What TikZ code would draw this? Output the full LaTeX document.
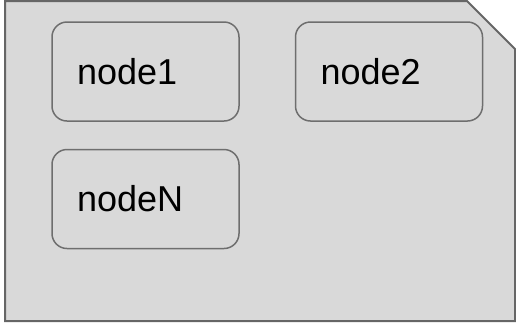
\documentclass[tikz,border=0pt]{standalone}
\usepackage{fontspec}
\setmainfont{Liberation Sans}
\usepackage{tikz}
\usetikzlibrary{positioning}
\definecolor{panel}{HTML}{D9D9D9}
\definecolor{edge}{HTML}{666666}
\definecolor{boxedge}{HTML}{6E6E6E}

\begin{document}
\begin{tikzpicture}[x=1pt,y=-1pt,
  panelshape/.style={draw=edge,fill=panel,line width=2pt,line join=miter},
  item/.style={draw=boxedge,fill=panel,line width=1.5pt,rounded corners=15pt,
    minimum width=187pt,minimum height=99pt,inner xsep=25pt,
    text width=137pt,align=left,font=\fontsize{36}{43}\selectfont}]
\useasboundingbox (0,0) rectangle (516,325);
% card with the clipped corner
\draw[panelshape] (5,1) -- (467,1) -- (515,49) -- (515,321) -- (5,321) -- cycle;
\node[item] (n1) at (145.5,71.5) {node1};
\node[item,right=55pt of n1] (n2) {node2};
\node[item,below=27pt of n1] (nN) {nodeN};
\end{tikzpicture}
\end{document}
